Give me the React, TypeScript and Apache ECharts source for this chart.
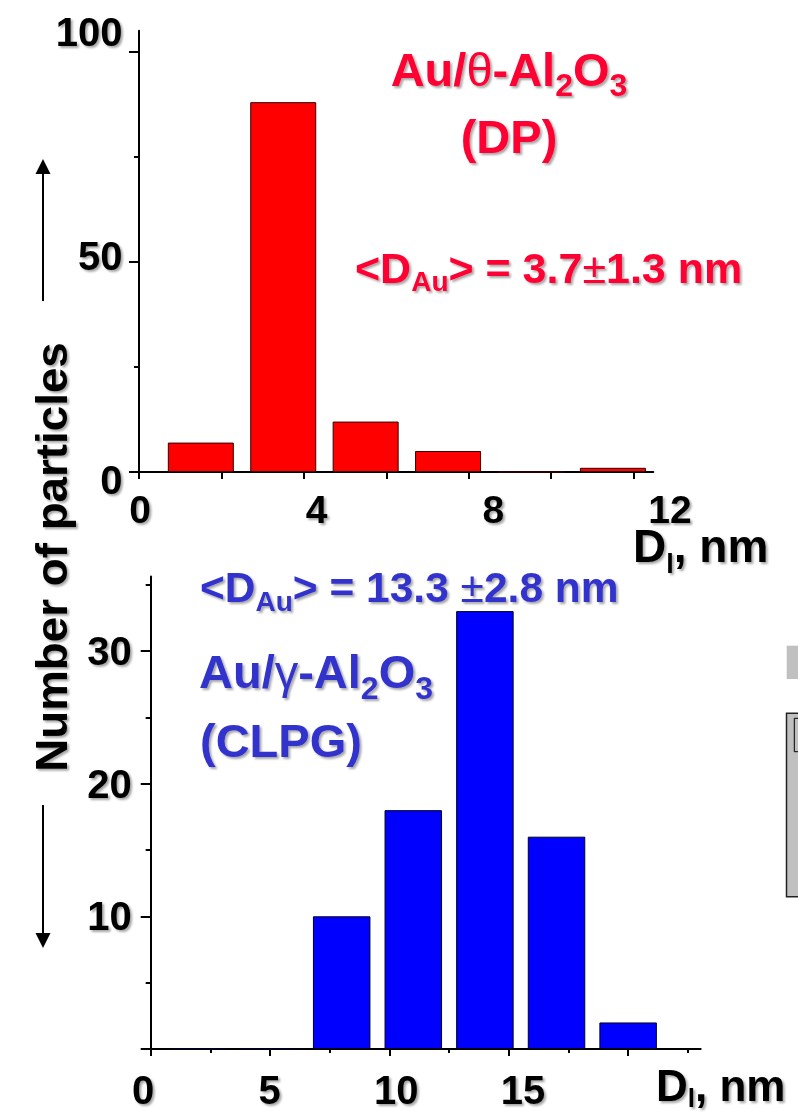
import React, { useEffect, useRef } from 'react';
import * as echarts from 'echarts';

// ---- data ----
const dpBinCenters = [1.5, 3.5, 5.5, 7.5, 9.5, 11.5];
const dpCounts = [7, 88, 12, 5, 0, 1];
const clpgBinCenters = [2, 5, 8, 11, 14, 17, 20];
const clpgCounts = [0, 0, 10, 18, 33, 16, 2];

const dpXTicks = [0, 2, 4, 6, 8, 10, 12];
const dpYTicks = [0, 50, 100];
const dpYMinorTicks = [25, 75];
const clpgXTicks = [0, 5, 10, 15, 20];
const clpgXMinorTicks = [2.5, 7.5, 12.5, 17.5, 22.5];
const clpgYTicks = [0, 10, 20, 30];
const clpgYMinorTicks = [5, 15, 25, 35];
const clpgYLabels = [10, 20, 30];

const FONT = "'Liberation Sans', Arial, Helvetica, sans-serif";
const RED_TEXT = '#FF0033';
const BLUE_TEXT = '#3333CC';

const shadow = {
  textShadowColor: 'rgba(0,0,0,0.35)',
  textShadowBlur: 2,
  textShadowOffsetX: 2,
  textShadowOffsetY: 2,
};

const tickStyle = { color: '#000', width: 2 };

function labelStyle(size: number, margin: number, lineHeight = size) {
  return {
    show: true,
    fontSize: size,
    fontWeight: 'bold',
    fontFamily: FONT,
    color: '#000',
    lineHeight,
    margin,
    ...shadow,
  };
}

function rich(color: string, F: number, f: number, H: number, p: number) {
  return {
    m: { fontSize: F, fontWeight: 'bold', fontFamily: FONT, lineHeight: H, fill: color, ...shadow },
    n: { fontSize: F, fontWeight: 'normal', fontFamily: FONT, lineHeight: H, fill: color, ...shadow },
    s: {
      fontSize: f,
      fontWeight: 'bold',
      fontFamily: FONT,
      lineHeight: Math.max(H - p, 4),
      padding: [p, 0, 0, 0],
      fill: color,
      ...shadow,
    },
  };
}

function richText(x: number, y: number, text: string, r: any, align = 'left', color = '#000') {
  return {
    type: 'text',
    x,
    y,
    z: 10,
    style: {
      text,
      rich: r,
      align,
      verticalAlign: 'top',
      fill: color,
      ...shadow,
    },
  };
}

function plainText(x: number, y: number, text: string, size: number, color: string, align = 'left') {
  return {
    type: 'text',
    x,
    y,
    z: 10,
    style: {
      text,
      font: `bold ${size}px ${FONT}`,
      align,
      verticalAlign: 'middle',
      fill: color,
      ...shadow,
    },
  };
}

const option: any = {
  animation: false,
  backgroundColor: '#ffffff',
  grid: [
    { left: 139, top: 30.7, width: 514.3, height: 441.3, outerBoundsMode: 'none' },
    { left: 140, top: 31.7, width: 530, height: 448.3, outerBoundsMode: 'none' },
    { left: 150.7, top: 576.6, width: 550, height: 472.4, outerBoundsMode: 'none' },
    { left: 143, top: 1039, width: 380, height: 10, outerBoundsMode: 'none' },
  ],
  xAxis: [
    {
      gridIndex: 0, type: 'value', min: 0, max: 12.48, interval: 2, position: 'bottom',
      axisLine: { show: true, onZero: false, lineStyle: tickStyle },
      axisTick: { show: true, length: 7, lineStyle: tickStyle, customValues: dpXTicks },
      axisLabel: { show: false },
      splitLine: { show: false },
    },
    {
      gridIndex: 1, type: 'value', min: 0, max: 12, interval: 4, position: 'bottom',
      axisLine: { show: false }, axisTick: { show: false },
      axisLabel: labelStyle(39, 13.4, 32),
      splitLine: { show: false },
    },
    {
      gridIndex: 2, type: 'value', min: 0, max: 23.04, interval: 2.5, position: 'bottom',
      axisLine: { show: true, onZero: false, lineStyle: tickStyle },
      axisTick: { show: true, length: 7, lineStyle: tickStyle, customValues: clpgXTicks },
      axisLabel: { show: false },
      splitLine: { show: false },
    },
    {
      gridIndex: 2, type: 'value', min: 0, max: 23.04, interval: 2.5, position: 'bottom', offset: 0,
      axisLine: { show: false },
      axisTick: { show: true, length: 4, lineStyle: tickStyle, customValues: clpgXMinorTicks },
      axisLabel: { show: false },
      splitLine: { show: false },
    },
    {
      gridIndex: 3, type: 'value', min: 0, max: 15, interval: 5, position: 'bottom',
      axisLine: { show: false }, axisTick: { show: false },
      axisLabel: labelStyle(40, 21),
      splitLine: { show: false },
    },
  ],
  yAxis: [
    {
      gridIndex: 0, type: 'value', min: 0, max: 105, interval: 25, position: 'left',
      axisLine: { show: true, onZero: false, lineStyle: tickStyle },
      axisTick: { show: true, length: 10, lineStyle: tickStyle, customValues: dpYTicks },
      axisLabel: { show: false },
      splitLine: { show: false },
    },
    {
      gridIndex: 0, type: 'value', min: 0, max: 105, interval: 25, position: 'left', offset: 0,
      axisLine: { show: false },
      axisTick: { show: true, length: 5, lineStyle: tickStyle, customValues: dpYMinorTicks },
      axisLabel: { show: false },
      splitLine: { show: false },
    },
    {
      gridIndex: 1, type: 'value', min: 0, max: 100, interval: 50, position: 'left',
      axisLine: { show: false }, axisTick: { show: false },
      axisLabel: labelStyle(40, 17.5),
      splitLine: { show: false },
    },
    {
      gridIndex: 2, type: 'value', min: 0, max: 35.6, interval: 5, position: 'left',
      axisLine: { show: true, onZero: false, lineStyle: tickStyle },
      axisTick: { show: true, length: 10, lineStyle: tickStyle, customValues: clpgYTicks },
      axisLabel: { ...labelStyle(40, 19), customValues: clpgYLabels },
      splitLine: { show: false },
    },
    {
      gridIndex: 2, type: 'value', min: 0, max: 35.6, interval: 5, position: 'left', offset: 0,
      axisLine: { show: false },
      axisTick: { show: true, length: 5, lineStyle: tickStyle, customValues: clpgYMinorTicks },
      axisLabel: { show: false },
      splitLine: { show: false },
    },
    {
      gridIndex: 3, type: 'value', min: 0, max: 1, show: false,
    },
  ],
  series: [
    {
      type: 'bar',
      xAxisIndex: 0,
      yAxisIndex: 0,
      barWidth: 66,
      data: dpBinCenters.map((x, i) => [x, dpCounts[i]]),
      itemStyle: { color: '#FF0000', borderColor: '#330000', borderWidth: 1 },
      z: 2,
    },
    {
      type: 'bar',
      xAxisIndex: 2,
      yAxisIndex: 3,
      barWidth: 57.5,
      data: clpgBinCenters.map((x, i) => [x, clpgCounts[i]]),
      itemStyle: { color: '#0000FF', borderColor: '#000022', borderWidth: 1 },
      z: 2,
    },
  ],
  graphic: [
    // y-axis title with arrows
    {
      type: 'text',
      x: 52,
      y: 557,
      rotation: Math.PI / 2,
      scaleX: 1.04,
      style: {
        text: 'Number of particles',
        font: `bold 44px ${FONT}`,
        align: 'center',
        verticalAlign: 'middle',
        fill: '#000',
        textShadowColor: 'rgba(0,0,0,0.35)',
        textShadowBlur: 2,
        textShadowOffsetX: -2,
        textShadowOffsetY: 2,
      },
    },
    { type: 'line', shape: { x1: 43, y1: 301, x2: 43, y2: 172 }, style: { stroke: '#000', lineWidth: 2 } },
    { type: 'polygon', shape: { points: [[35.5, 174], [50.5, 174], [43, 159]] }, style: { fill: '#000' } },
    { type: 'line', shape: { x1: 43, y1: 805, x2: 43, y2: 935 }, style: { stroke: '#000', lineWidth: 2 } },
    { type: 'polygon', shape: { points: [[35.5, 933], [50.5, 933], [43, 948]] }, style: { fill: '#000' } },

    // top (DP) annotations
    richText(509, 34, '{m|Au/}{n|θ}{m|-Al}{s|2}{m|O}{s|3}', rich(RED_TEXT, 47, 32, 70, 32), 'center', RED_TEXT),
    plainText(509, 136, '(DP)', 47, RED_TEXT, 'center'),
    richText(355, 238, '{m|<D}{s|Au}{m|> = 3.7}{n|±}{m|1.3 nm}', rich(RED_TEXT, 43, 28, 60, 26), 'left', RED_TEXT),
    richText(633, 526, '{m|D}{s|l}{m|, nm}', rich('#000', 46, 27, 40, 35), 'left', '#000'),

    // bottom (CLPG) annotations
    richText(200, 557, '{m|<D}{s|Au}{m|> = 13.3 }{n|±}{m|2.8 nm}', rich(BLUE_TEXT, 42.5, 28, 60, 29), 'left', BLUE_TEXT),
    richText(199, 636.5, '{m|Au/}{n|γ}{m|-Al}{s|2}{m|O}{s|3}', rich(BLUE_TEXT, 47, 32, 70, 32), 'left', BLUE_TEXT),
    plainText(200, 740, '(CLPG)', 47, BLUE_TEXT, 'left'),
    richText(656, 1064, '{m|D}{s|l}{m|, nm}', rich('#000', 44, 26, 42, 26), 'left', '#000'),

    // grey fragments at the right edge
    { type: 'rect', shape: { x: 786.7, y: 645.7, width: 14, height: 33.3 }, style: { fill: '#C0C0C0' } },
    {
      type: 'rect',
      shape: { x: 786.5, y: 713.3, width: 14, height: 183.4 },
      style: { fill: '#C0C0C0', stroke: '#222', lineWidth: 1.5 },
    },
    {
      type: 'rect',
      shape: { x: 794.3, y: 718.3, width: 10, height: 33.4 },
      style: { fill: '#C0C0C0', stroke: '#000', lineWidth: 1 },
    },
  ],
};

export default function App() {
  const ref = useRef<HTMLDivElement>(null);
  useEffect(() => {
    const chart = echarts.init(ref.current as HTMLDivElement, null, { renderer: 'svg' });
    chart.setOption(option);
    return () => chart.dispose();
  }, []);
  return (
    <div
      ref={ref}
      style={{ position: 'absolute', left: 0, top: 0, width: 798, height: 1113, background: '#fff' }}
    />
  );
}
